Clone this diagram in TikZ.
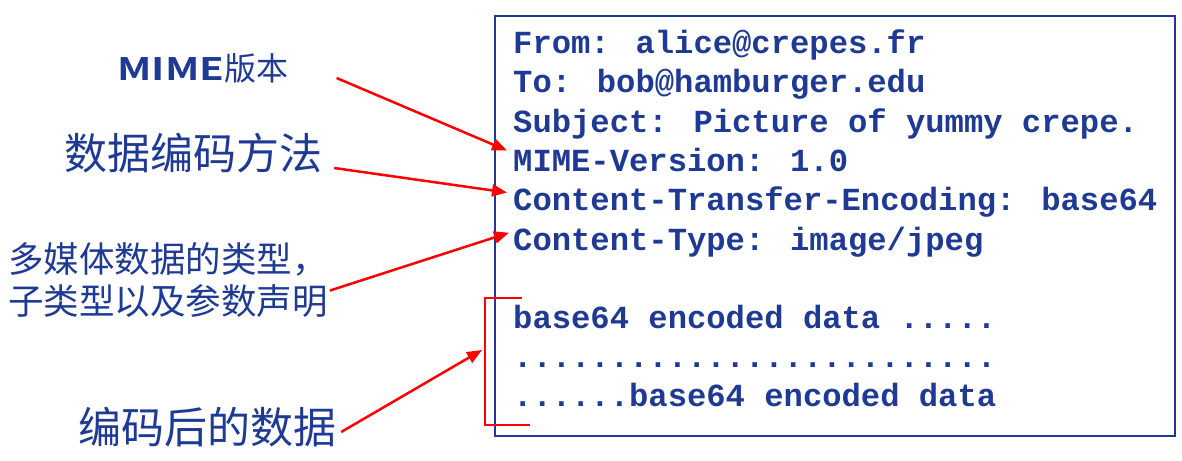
\documentclass[tikz,border=0pt]{standalone}
\usepackage{fontspec}
\usetikzlibrary{arrows.meta,positioning}
\newfontfamily\cjk{Noto Sans CJK SC}
\newfontfamily\cjkbold{Noto Sans CJK SC Bold}
\newfontfamily\mailmono{Liberation Mono}
\definecolor{inkblue}{HTML}{1F3A94}
\definecolor{markred}{HTML}{FF0000}

\begin{document}
\begin{tikzpicture}[x=1pt, y=-1pt,
  mailline/.style={anchor=base west, inner sep=0pt, text=inkblue, font=\mailmono\bfseries\fontsize{32.2}{36}\selectfont},
  label/.style={inner sep=0pt, text=inkblue, font=\cjk\fontsize{43}{50}\selectfont},
  smalllabel/.style={inner sep=0pt, text=inkblue, anchor=base west, font=\cjk\fontsize{35.5}{40}\selectfont},
  arr/.style={-{Triangle[length=15pt, width=12pt]}, line width=2.5pt, markred}
]
  \useasboundingbox (0,0) rectangle (1182,460);

  % message box
  \draw[inkblue, line width=2pt] (495,16) rectangle (1175,436);

  \node[mailline] (lfrom) at (513,53) {From: alice@crepes.fr};
  \node[mailline] (lto) at (513,92) {To: bob@hamburger.edu};
  \node[mailline] (lsubj) at (513,132) {Subject: Picture of yummy crepe.};
  \node[mailline] (lmime) at (513,171) {MIME-Version: 1.0};
  \node[mailline] (lenc) at (513,210) {Content-Transfer-Encoding: base64};
  \node[mailline] (ltype) at (513,250) {Content-Type: image/jpeg};
  \node[mailline] (ldata1) at (513,328) {base64 encoded data .....};
  \node[mailline] (ldata2) at (513,367) {.........................};
  \node[mailline] (ldata3) at (513,406) {......base64 encoded data};

  % labels on the left
  \node[inner sep=0pt, text=inkblue] (lblmime) at (203,68)
    {\scalebox{1.3}[1]{\cjkbold\fontsize{31}{36}\selectfont MIME}{\cjk\fontsize{32}{36}\selectfont 版本}};
  \node[label] (lblenc) at (193,153) {数据编码方法};
  \node[smalllabel] (lbltype) at (8,272) {多媒体数据的类型，};
  \node[smalllabel] (lbltype2) at (8,314) {子类型以及参数声明};
  \node[label] (lbldata) at (207,427) {编码后的数据};

  % bracket round the encoded data
  \draw[markred, line width=2.5pt] (522,298) -| (485,425) -- (530,425);
  \coordinate (brk) at (482,350);

  % arrows
  \draw[arr] ([xshift=48pt, yshift=-10pt]lblmime.east) -- ([xshift=-6pt, yshift=9pt]lmime.west);
  \draw[arr] ([xshift=12pt, yshift=-15pt]lblenc.east) -- ([xshift=-6pt, yshift=9pt]lenc.west);
  \draw[arr] ([xshift=2pt, yshift=10pt]lbltype2.east) -- ([xshift=-4pt, yshift=9pt]ltype.west);
  \draw[arr] ([xshift=5pt, yshift=-5pt]lbldata.east) -- (brk);
\end{tikzpicture}
\end{document}
